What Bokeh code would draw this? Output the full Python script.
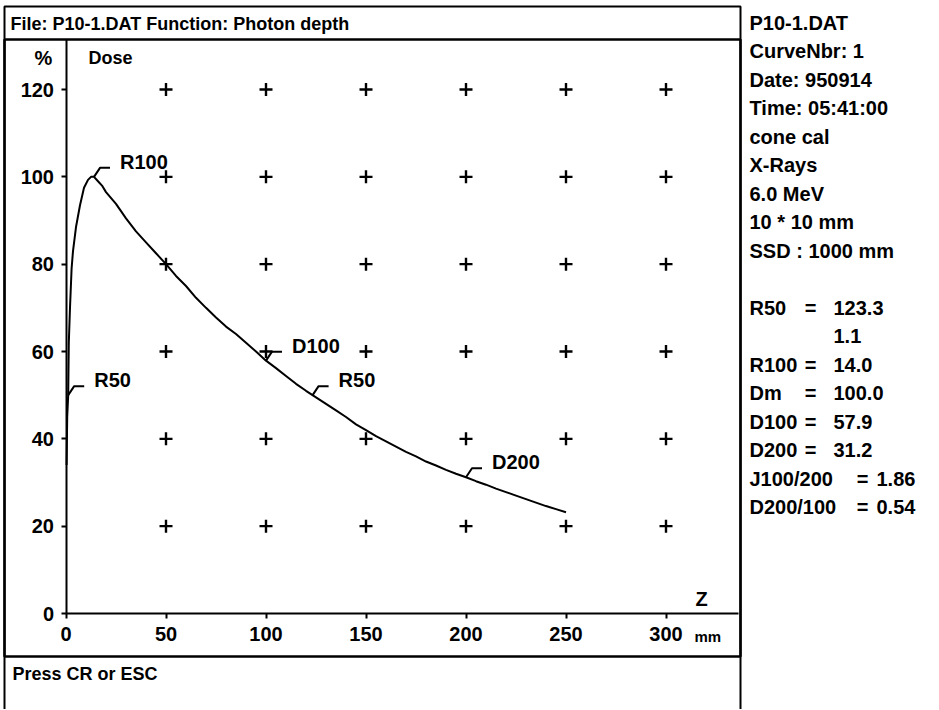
from bokeh.plotting import figure
from bokeh.models import Range1d, LinearAxis, FixedTicker, Label, BoxAnnotation
from bokeh.embed import file_html
from bokeh.resources import INLINE
from bokeh.core.properties import value

# ---------------- data ----------------
depth_mm = [0.3, 0.6, 1.1, 1.4, 2.0, 2.8, 3.5, 5.0, 7.0, 9.0, 11.0, 12.5, 14.0,
            16, 18, 20, 25, 30, 35, 40, 45, 50, 55, 60, 65, 70, 75, 80, 85, 90,
            95, 100, 105, 110, 115, 120, 125, 130, 135, 140, 145, 150, 155, 160,
            165, 170, 175, 180, 185, 190, 195, 200, 205, 210, 215, 220, 225, 230,
            235, 240, 245, 250]
dose_pct = [34.0, 45.0, 50.0, 62.0, 70.0, 79.0, 83.0, 88.5, 93.5, 97.5, 99.3, 100.0, 100.0,
            99.0, 98.0, 96.5, 93.8, 90.5, 87.5, 85.0, 82.5, 80.0, 77.3, 75.0, 72.3, 70.0,
            67.8, 65.7, 64.0, 62.0, 60.0, 57.9, 56.2, 54.4, 52.6, 51.0, 49.5, 48.0, 46.5,
            45.0, 43.3, 42.0, 40.6, 39.4, 38.2, 37.0, 36.0, 34.8, 33.9, 32.9, 32.0, 31.2,
            30.3, 29.5, 28.6, 27.8, 27.0, 26.2, 25.4, 24.6, 23.9, 23.2]

marker_names = ["R100", "R50", "D100", "R50", "D200"]
marker_x = [14.0, 1.1, 100.0, 123.3, 200.0]
marker_y = [100.0, 50.0, 57.9, 50.0, 31.2]

x_ticks = [0, 50, 100, 150, 200, 250, 300]
y_ticks = [0, 20, 40, 60, 80, 100, 120]
cross_x = [50, 100, 150, 200, 250, 300]
cross_y = [20, 40, 60, 80, 100, 120]

title_text = "File: P10-1.DAT  Function: Photon depth"
info_lines = ["P10-1.DAT", "CurveNbr: 1", "Date: 950914", "Time: 05:41:00",
              "cone cal", "X-Rays", "6.0 MeV", "10 * 10 mm", "SSD : 1000 mm"]
result_names = ["R50", "", "R100", "Dm", "D100", "D200"]
result_values = ["123.3", "1.1", "14.0", "100.0", "57.9", "31.2"]
ratio_names = ["J100/200", "D200/100"]
ratio_values = ["1.86", "0.54"]
footer_text = "Press CR or ESC"

# ---------------- layout constants (pixels) ----------------
W, H = 938, 709
X0 = 65.5                 # canvas x of depth 0
Y0 = 613.0                # canvas y of dose 0
PXX = 2.0                 # px per mm
PXY = 524.0 / 120.0       # px per %
X_END = (738 - X0) / PXX
Y_TOP = (Y0 - 39) / PXY

FONT = "Liberation Sans"
FS = "20px"

p = figure(width=W, height=H, output_backend="svg", toolbar_location=None,
           x_axis_type=None, y_axis_type=None,
           x_range=Range1d(-X0 / PXX, (W - X0) / PXX),
           y_range=Range1d(-(H - Y0) / PXY, Y0 / PXY),
           min_border=0, min_border_left=0, min_border_right=0,
           min_border_top=0, min_border_bottom=0)
p.outline_line_color = None
p.grid.visible = False
p.background_fill_color = "white"
p.border_fill_color = "white"

def ax_style(ax):
    ax.axis_line_width = 2
    ax.axis_line_color = "black"
    ax.major_tick_line_width = 2
    ax.major_tick_line_color = "black"
    ax.major_tick_in = 0
    ax.major_tick_out = 5
    ax.minor_tick_out = 0
    ax.minor_tick_in = 0
    ax.major_label_text_font = FONT
    ax.major_label_text_font_size = FS
    ax.major_label_text_font_style = "bold"
    ax.major_label_text_color = "black"

xaxis = LinearAxis(fixed_location=0, bounds=(0, X_END), ticker=FixedTicker(ticks=x_ticks))
ax_style(xaxis)
xaxis.major_label_standoff = 8
p.add_layout(xaxis, "below")

yaxis = LinearAxis(fixed_location=0, bounds=(0, Y_TOP), ticker=FixedTicker(ticks=y_ticks))
ax_style(yaxis)
yaxis.major_label_standoff = 7
yaxis.major_label_orientation = "horizontal"
p.add_layout(yaxis, "left")

# grid crosses
gx = [x for y in cross_y for x in cross_x]
gy = [y for y in cross_y for x in cross_x]
p.scatter(gx, gy, marker="cross", size=13, line_width=2.4, line_color="black")

# curve
p.line(depth_mm, dose_pct, line_color="black", line_width=2)

# leaders + marker labels
lx = [[mx, mx + 6 / PXX, mx + 16 / PXX] for mx in marker_x]
ly = [[my, my + 9 / PXY, my + 9 / PXY] for my in marker_y]
p.multi_line(lx, ly, line_color="black", line_width=2)
p.text(marker_x, marker_y, text=marker_names, x_offset=26, y_offset=-15,
       text_baseline="middle", text_align="left", text_font=value(FONT),
       text_font_size=FS, text_font_style="bold", text_color="black")

# frame boxes (screen units, y measured from bottom of canvas)
def sy(page_y):
    return H - page_y

def box(top, bottom, lw):
    p.add_layout(BoxAnnotation(left=4, right=740, top=sy(top), bottom=sy(bottom),
                               left_units="screen", right_units="screen",
                               top_units="screen", bottom_units="screen",
                               fill_color=None, fill_alpha=0, line_color="black",
                               line_alpha=1.0, line_width=lw, level="overlay"))

box(6, 740, 2)      # outer border (bottom edge off canvas)
box(39, 656, 2.5)   # title underline + footer separator

def lab(text, x, y, size=FS, align="left", font=FONT):
    p.add_layout(Label(x=x, y=sy(y), x_units="screen", y_units="screen",
                       text=text, text_font=font, text_font_size=size,
                       text_font_style="bold", text_color="black",
                       text_baseline="middle", text_align=align))

lab(title_text, 10, 23, size="18px")
lab("%", 43, 57, align="center")
lab("Dose", 88, 57, size="18px")
lab("Z", 701, 598, align="center")
lab("mm", 694, 636, size="15px")
lab(footer_text, 12, 673, size="18px")

ROW0, STEP = 22, 28.5
for i, t in enumerate(info_lines):
    lab(t, 749, ROW0 + STEP * i)
for j, (n, v) in enumerate(zip(result_names, result_values)):
    yy = ROW0 + STEP * (10 + j)
    if n:
        lab(n, 749, yy)
        lab("=", 810, yy, align="center")
    lab(v, 833, yy)
for k, (n, v) in enumerate(zip(ratio_names, ratio_values)):
    yy = ROW0 + STEP * (16 + k)
    lab(n, 749, yy)
    lab("=", 862, yy, align="center")
    lab(v, 876, yy)

open("out.html", "w").write(file_html(p, INLINE))
